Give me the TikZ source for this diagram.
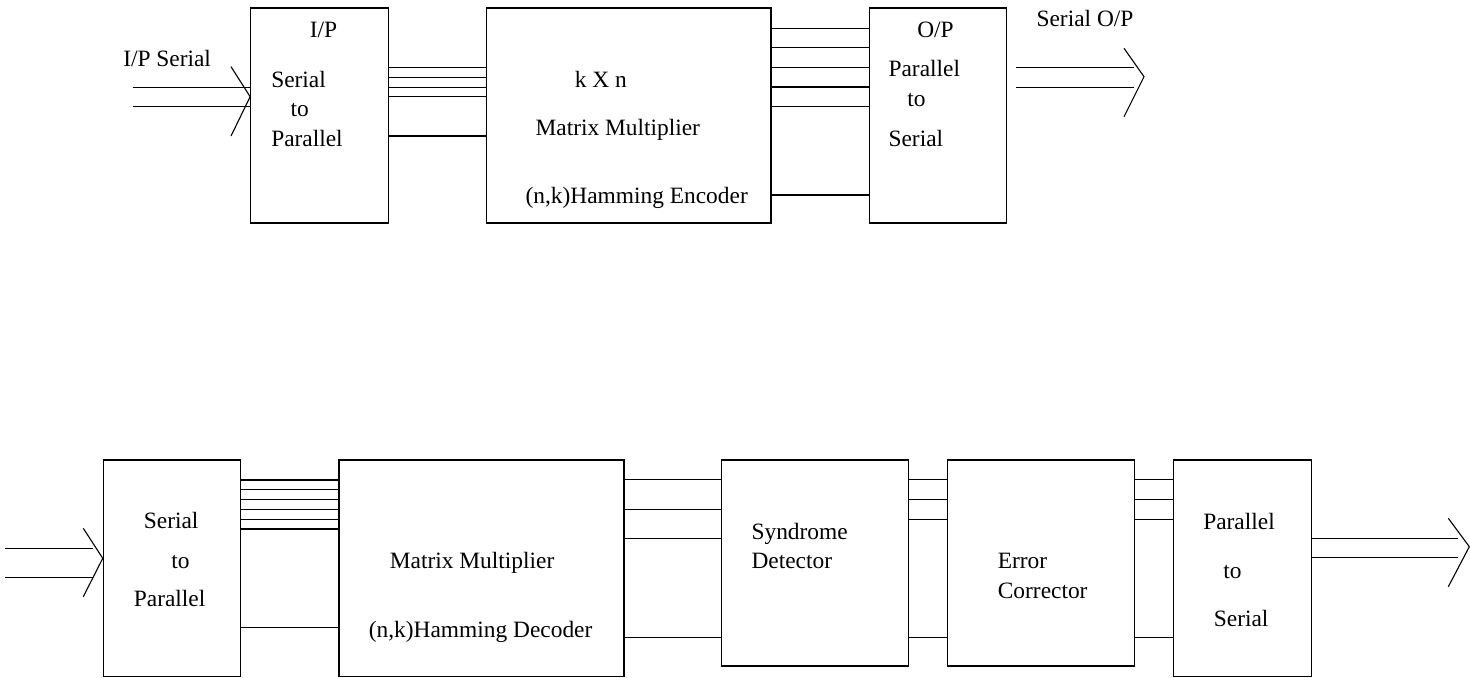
\documentclass[tikz,border=0pt]{standalone}
\usepackage{fontspec}
\setmainfont{Liberation Serif}
\begin{document}
\begin{tikzpicture}[x=0.5pt,y=-0.5pt,
  line width=0.55pt,
  blk/.style={draw, inner sep=0pt, line width=0.55pt},
  lbl/.style={anchor=base west, inner sep=0pt, font=\fontsize{11.7}{13}\selectfont},
  wire/.style={draw, line width=0.55pt}]
\useasboundingbox (0,0) rectangle (1470,678);

% ---------- top row (encoder) ----------
\node[blk, minimum width=68.8pt, minimum height=107.5pt] (e1) at (319.5,115.5) {};
\node[blk, minimum width=142.15pt, minimum height=107.5pt] (e2) at (628.85,115.5) {};
\node[blk, minimum width=68.7pt, minimum height=107.5pt] (e3) at (938,115.5) {};

% input
\coordinate (ia) at (132.7,87.3);
\coordinate (ib) at (132.7,106.7);
\coordinate (ic1) at (231,66.7);
\coordinate (ic2) at (231,136);
\draw[wire] (ia) -- (e1.west |- ia);
\draw[wire] (ib) -- (e1.west |- ib);
\draw[wire] (ic1) -- (e1.west |- 0,96.7) -- (ic2);

% bundles
\foreach \y in {67.3,77.3,87.3,96.7,136}
  \draw[wire] (e1.east |- 0,\y) -- (e2.west |- 0,\y);
\foreach \y in {28.3,47.7,67.7,87,106.7,195}
  \draw[wire] (e2.east |- 0,\y) -- (e3.west |- 0,\y);

% output
\coordinate (oa1) at (1016,67.7);
\coordinate (oa2) at (1134,67.7);
\coordinate (ob1) at (1016,87.3);
\coordinate (ob2) at (1134,87.3);
\coordinate (oc1) at (1124,48.3);
\coordinate (oct) at (1144,76.7);
\coordinate (oc2) at (1124,116.7);
\draw[wire] (oa1) -- (oa2);
\draw[wire] (ob1) -- (ob2);
\draw[wire] (oc1) -- (oct) -- (oc2);

% texts top
\node[lbl] (t1) at (122.7,66.7) {I/P Serial};
\node[lbl] (t2) at (309.3,37.7) {I/P};
\node[lbl] (t3) at (270.7,87.3) {Serial};
\node[lbl] (t4) at (290,116.7) {to};
\node[lbl] (t5) at (270.7,146.7) {Parallel};
\node[lbl] (t6) at (574.3,87.3) {k X n};
\node[lbl] (t7) at (535,136) {Matrix Multiplier};
\node[lbl] (t8) at (525,204) {(n,k)Hamming Encoder};
\node[lbl] (t9) at (916.7,37.7) {O/P};
\node[lbl] (t10) at (888,76.7) {Parallel};
\node[lbl] (t11) at (906.7,106.7) {to};
\node[lbl] (t12) at (888,146.7) {Serial};
\node[lbl] (t13) at (1036,26.7) {Serial O/P};

% ---------- bottom row (decoder) ----------
\node[blk, minimum width=68.7pt, minimum height=108.35pt] (d1) at (172,568.35) {};
\node[blk, minimum width=142.5pt, minimum height=108.35pt] (d2) at (481.5,568.35) {};
\node[blk, minimum width=93.3pt, minimum height=103pt] (d3) at (815,563) {};
\node[blk, minimum width=93.5pt, minimum height=103pt] (d4) at (1040.8,563) {};
\node[blk, minimum width=69.2pt, minimum height=108.35pt] (d5) at (1242.5,568.35) {};

% input
\coordinate (ja) at (5,548.3);
\coordinate (jb) at (5,577.3);
\coordinate (jc1) at (83.3,528.3);
\coordinate (jc2) at (83.3,596.7);
\draw[wire] (ja) -- ([xshift=-5pt]d1.west |- ja);
\draw[wire] (jb) -- ([xshift=-5pt]d1.west |- jb);
\draw[wire] (jc1) -- (d1.west |- 0,558.3) -- (jc2);

% bundles
\foreach \y in {480,489.3,499.3,509.3,519.3,529,627.7}
  \draw[wire] (d1.east |- 0,\y) -- (d2.west |- 0,\y);
\foreach \y in {479.3,509.3,538.3,637.3}
  \draw[wire] (d2.east |- 0,\y) -- (d3.west |- 0,\y);
\foreach \y in {479.3,499.3,519.3,637.3}
  \draw[wire] (d3.east |- 0,\y) -- (d4.west |- 0,\y);
\foreach \y in {479.3,499.3,519.3,637.3}
  \draw[wire] (d4.east |- 0,\y) -- (d5.west |- 0,\y);

% output
\coordinate (pa) at (1458.3,538.3);
\coordinate (pb) at (1458.3,557.3);
\coordinate (pc1) at (1448.3,518.3);
\coordinate (pct) at (1469.3,546.7);
\coordinate (pc2) at (1448.3,586.7);
\draw[wire] (d5.east |- pa) -- (pa);
\draw[wire] (d5.east |- pb) -- (pb);
\draw[wire] (pc1) -- (pct) -- (pc2);

% texts bottom
\node[lbl] (s1) at (143.3,528.3) {Serial};
\node[lbl] (s2) at (170.7,568.3) {to};
\node[lbl] (s3) at (133.3,606.7) {Parallel};
\node[lbl] (s4) at (389.3,568.3) {Matrix Multiplier};
\node[lbl] (s5) at (368.3,637.3) {(n,k)Hamming Decoder};
\node[lbl] (s6) at (751,539.3) {Syndrome};
\node[lbl] (s7) at (751,568.3) {Detector};
\node[lbl] (s8) at (997.3,568.3) {Error};
\node[lbl] (s9) at (997.3,598.3) {Corrector};
\node[lbl] (s10) at (1202.7,529.3) {Parallel};
\node[lbl] (s11) at (1222.7,578.3) {to};
\node[lbl] (s12) at (1213.3,626.7) {Serial};
\end{tikzpicture}
\end{document}
